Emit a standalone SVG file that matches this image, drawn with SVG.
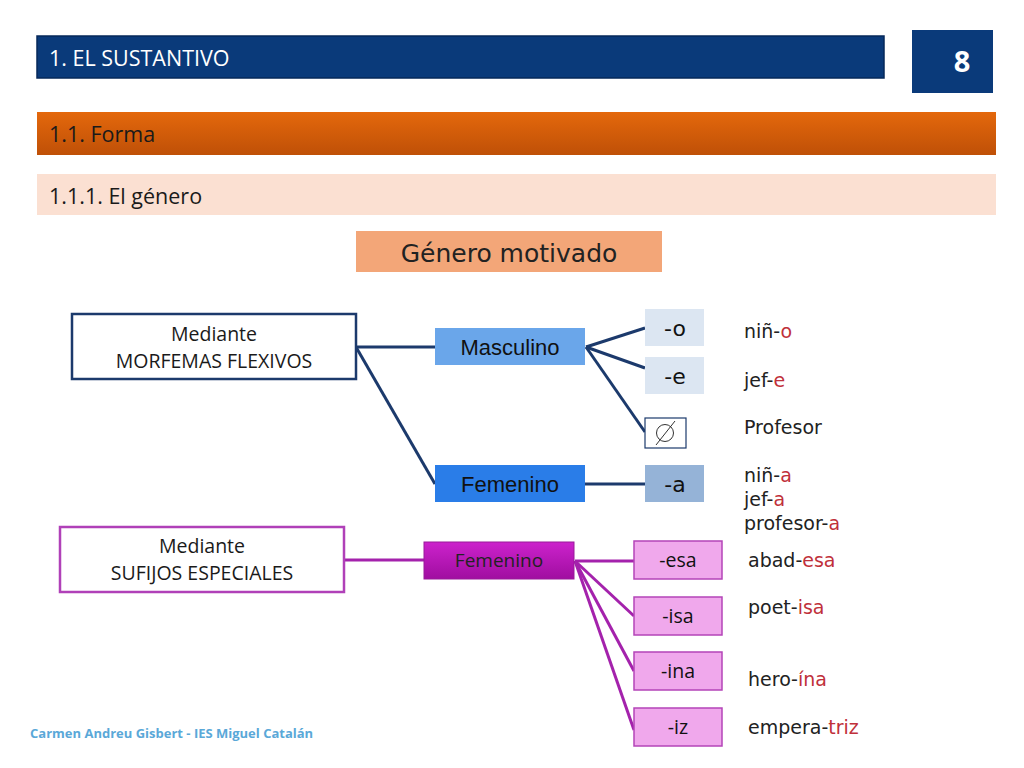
<svg xmlns="http://www.w3.org/2000/svg" width="1024" height="768" viewBox="0 0 1024 768">
<defs>
<linearGradient id="gOr" x1="0" y1="0" x2="0" y2="1"><stop offset="0" stop-color="#e4680c"/><stop offset="1" stop-color="#bf5007"/></linearGradient>
<linearGradient id="gPu" x1="0" y1="0" x2="0" y2="1"><stop offset="0" stop-color="#cc22cc"/><stop offset="1" stop-color="#a00ea0"/></linearGradient>
<style>
.cal{font-family:"Open Sans","Noto Sans","Liberation Sans",sans-serif}
.got{font-family:"DejaVu Sans","Liberation Sans",sans-serif}
.ar{font-family:"Liberation Sans",Arial,sans-serif}
.nav{stroke:#1c3a6c;stroke-width:3;fill:none}
.pur{stroke:#a422ac;stroke-width:3;fill:none}
.sbox{fill:#f0a8ec;stroke:#b444b8;stroke-width:1.5}
.ex{font-size:19px;fill:#222}
.r{fill:#c0303a}
</style>
</defs>
<rect width="1024" height="768" fill="#fff"/>

<g id="header">
<rect x="37" y="36" width="847" height="42" fill="#0a3a7a" stroke="#06285a" stroke-width="1.5"/>
<text x="49" y="66" class="cal" font-size="21.5" fill="#fff">1. EL SUSTANTIVO</text>
</g>
<g id="pagenum">
<rect x="912" y="30" width="81" height="63" fill="#0a3a7a"/>
<text x="962" y="72" class="cal" font-size="29" font-weight="bold" fill="#fff" text-anchor="middle">8</text>
</g>
<g id="forma">
<rect x="37" y="112" width="959" height="43" fill="url(#gOr)"/>
<text x="49" y="142" class="cal" font-size="21.5" fill="#1a1a1a">1.1. Forma</text>
</g>
<g id="genero">
<rect x="37" y="174" width="959" height="41" fill="#fbe0d2"/>
<text x="49" y="204" class="cal" font-size="21.5" fill="#1a1a1a">1.1.1. El género</text>
</g>
<g id="motivado">
<rect x="356" y="231" width="306" height="41" fill="#f3a678"/>
<text x="509" y="262" class="got" font-size="25" fill="#222" text-anchor="middle">Género motivado</text>
</g>

<g id="connectors">
<line x1="356" y1="347" x2="435" y2="347" class="nav"/>
<line x1="356" y1="347" x2="435" y2="484" class="nav"/>
<line x1="586" y1="347" x2="645" y2="328" class="nav"/>
<line x1="586" y1="347" x2="645" y2="368" class="nav"/>
<line x1="586" y1="347" x2="645" y2="432" class="nav"/>
<line x1="585" y1="484" x2="645" y2="484" class="nav"/>
<line x1="344" y1="560" x2="424" y2="560" class="pur"/>
<line x1="575" y1="561" x2="634" y2="561" class="pur"/>
<line x1="575" y1="561" x2="634" y2="616" class="pur"/>
<line x1="575" y1="561" x2="634" y2="671" class="pur"/>
<line x1="575" y1="561" x2="634" y2="730" class="pur"/>
</g>

<g id="morfemas">
<rect x="72" y="314" width="284" height="65" fill="#fff" stroke="#1c3a6c" stroke-width="2.5"/>
<text x="214" y="341" class="cal" font-size="19.5" fill="#1a1a1a" text-anchor="middle">Mediante</text>
<text x="214" y="368" class="cal" font-size="19.5" fill="#1a1a1a" text-anchor="middle">MORFEMAS FLEXIVOS</text>
</g>
<g id="masculino">
<rect x="435" y="328" width="150" height="37" fill="#6aa6ea"/>
<text x="510" y="355" class="ar" font-size="22" fill="#111" text-anchor="middle">Masculino</text>
</g>
<g id="femenino1">
<rect x="435" y="465" width="150" height="37" fill="#2a7de8"/>
<text x="510" y="492" class="ar" font-size="22" fill="#111" text-anchor="middle">Femenino</text>
</g>
<g id="suf-o">
<rect x="645" y="309" width="59" height="37" fill="#dce6f2"/>
<text x="675" y="336" class="got" font-size="22" fill="#111" text-anchor="middle">-o</text>
</g>
<g id="suf-e">
<rect x="645" y="357" width="59" height="37" fill="#dce6f2"/>
<text x="675" y="384" class="got" font-size="22" fill="#111" text-anchor="middle">-e</text>
</g>
<g id="suf-cero">
<rect x="645" y="418" width="41" height="30" fill="#fff" stroke="#1c3a6c" stroke-width="1.2"/>
<circle cx="665" cy="433" r="8.5" fill="none" stroke="#333" stroke-width="1"/>
<line x1="656" y1="445" x2="675" y2="421" stroke="#333" stroke-width="1"/>
</g>
<g id="suf-a">
<rect x="645" y="465" width="59" height="37" fill="#95b3d7"/>
<text x="675" y="492" class="got" font-size="22" fill="#111" text-anchor="middle">-a</text>
</g>

<g id="ejemplos1" class="got ex">
<text x="744" y="338">niñ-<tspan class="r">o</tspan></text>
<text x="744" y="387">jef-<tspan class="r">e</tspan></text>
<text x="744" y="434">Profesor</text>
<text x="744" y="482">niñ-<tspan class="r">a</tspan></text>
<text x="744" y="506">jef-<tspan class="r">a</tspan></text>
<text x="744" y="530">profesor-<tspan class="r">a</tspan></text>
</g>

<g id="sufijos">
<rect x="60" y="527" width="284" height="65" fill="#fff" stroke="#b040b8" stroke-width="2.5"/>
<text x="202" y="553" class="cal" font-size="19.5" fill="#1a1a1a" text-anchor="middle">Mediante</text>
<text x="202" y="580" class="cal" font-size="19.5" fill="#1a1a1a" text-anchor="middle">SUFIJOS ESPECIALES</text>
</g>
<g id="femenino2">
<rect x="424" y="542" width="150" height="37" fill="url(#gPu)" stroke="#9a1a9a" stroke-width="1"/>
<text x="499" y="567" class="cal" font-size="19" fill="#222" text-anchor="middle">Femenino</text>
</g>
<g id="suf-esa">
<rect x="634" y="541" width="88" height="38" class="sbox"/>
<text x="678" y="567" class="cal" font-size="19.5" fill="#111" text-anchor="middle">-esa</text>
</g>
<g id="suf-isa">
<rect x="634" y="597" width="88" height="38" class="sbox"/>
<text x="678" y="623" class="cal" font-size="19.5" fill="#111" text-anchor="middle">-isa</text>
</g>
<g id="suf-ina">
<rect x="634" y="652" width="88" height="38" class="sbox"/>
<text x="678" y="678" class="cal" font-size="19.5" fill="#111" text-anchor="middle">-ina</text>
</g>
<g id="suf-iz">
<rect x="634" y="708" width="88" height="38" class="sbox"/>
<text x="678" y="734" class="cal" font-size="19.5" fill="#111" text-anchor="middle">-iz</text>
</g>

<g id="ejemplos2" class="got ex">
<text x="748" y="567">abad-<tspan class="r">esa</tspan></text>
<text x="748" y="614">poet-<tspan class="r">isa</tspan></text>
<text x="748" y="686">hero-<tspan class="r">ína</tspan></text>
<text x="748" y="734">empera-<tspan class="r">triz</tspan></text>
</g>

<g id="footer">
<text x="30" y="738" class="cal" font-size="13" font-weight="bold" fill="#5aa8d8">Carmen Andreu Gisbert - IES Miguel Catalán</text>
</g>
</svg>
